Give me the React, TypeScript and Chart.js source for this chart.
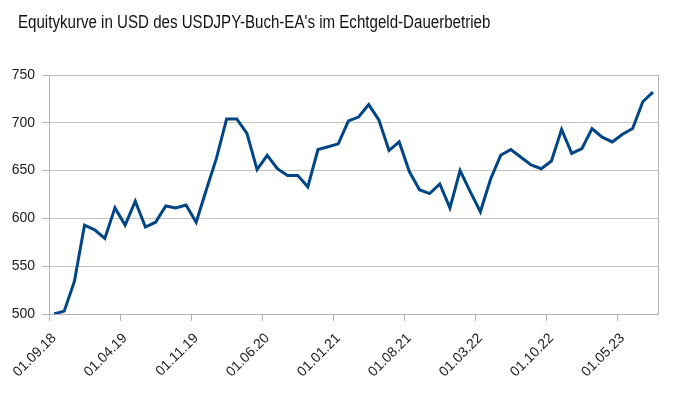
import React, { useEffect, useRef } from 'react';
import { Chart, registerables } from 'chart.js';

Chart.register(...registerables);

const TITLE = "Equitykurve in USD des USDJPY-Buch-EA's im Echtgeld-Dauerbetrieb";

const months = [
  '01.09.18', '01.10.18', '01.11.18', '01.12.18',
  '01.01.19', '01.02.19', '01.03.19', '01.04.19', '01.05.19', '01.06.19', '01.07.19', '01.08.19', '01.09.19', '01.10.19', '01.11.19', '01.12.19',
  '01.01.20', '01.02.20', '01.03.20', '01.04.20', '01.05.20', '01.06.20', '01.07.20', '01.08.20', '01.09.20', '01.10.20', '01.11.20', '01.12.20',
  '01.01.21', '01.02.21', '01.03.21', '01.04.21', '01.05.21', '01.06.21', '01.07.21', '01.08.21', '01.09.21', '01.10.21', '01.11.21', '01.12.21',
  '01.01.22', '01.02.22', '01.03.22', '01.04.22', '01.05.22', '01.06.22', '01.07.22', '01.08.22', '01.09.22', '01.10.22', '01.11.22', '01.12.22',
  '01.01.23', '01.02.23', '01.03.23', '01.04.23', '01.05.23', '01.06.23', '01.07.23', '01.08.23',
];

const equity = [
  500, 503, 534, 593, 588, 579, 611, 593, 618, 591,
  596, 613, 611, 614, 596, 630, 663, 704, 704, 689,
  651, 666, 652, 645, 645, 633, 672, 675, 678, 702,
  706, 719, 703, 671, 680, 649, 630, 626, 636, 611,
  650, 628, 607, 641, 666, 672, 664, 656, 652, 660,
  693, 668, 673, 694, 685, 680, 688, 694, 722, 732,
];

const shownLabels = [
  '01.09.18', '01.04.19', '01.11.19', '01.06.20', '01.01.21',
  '01.08.21', '01.03.22', '01.10.22', '01.05.23',
];

const yTicks = [500, 550, 600, 650, 700, 750];

const GRID = '#c4c4c4';
const FRAME = '#b3b3b3';
const FONT = '"Liberation Sans", Arial, sans-serif';

const framePlugin = {
  id: 'frame',
  afterDraw(chart: any) {
    const { ctx, chartArea } = chart;
    ctx.save();
    ctx.strokeStyle = FRAME;
    ctx.lineWidth = 1;
    ctx.beginPath();
    ctx.moveTo(Math.round(chartArea.right) + 0.5, chartArea.top);
    ctx.lineTo(Math.round(chartArea.right) + 0.5, chartArea.bottom);
    ctx.stroke();
    ctx.restore();
  },
};

export default function App() {
  const ref = useRef<HTMLCanvasElement>(null);

  useEffect(() => {
    if (!ref.current) return;
    const chart = new Chart(ref.current, {
      type: 'line',
      data: {
        labels: months,
        datasets: [
          {
            data: equity,
            borderColor: '#004586',
            borderWidth: 3,
            pointRadius: 0,
            tension: 0,
            fill: false,
          },
        ],
      },
      options: {
        responsive: false,
        animation: false,
        layout: { padding: { top: 75, right: 17, left: 0, bottom: 0 } },
        plugins: {
          legend: { display: false },
          title: { display: false },
          tooltip: { enabled: false },
        },
        scales: {
          x: {
            type: 'category',
            offset: true,
            afterFit: (s: any) => { s.height = 83; },
            grid: {
              offset: true,
              drawOnChartArea: false,
              tickLength: 7,
              color: FRAME,
              tickColor: (c: any) => (c.index % 7 === 0 && c.index < months.length ? FRAME : 'rgba(0,0,0,0)'),
            },
            border: { display: true, color: FRAME },
            ticks: {
              autoSkip: false,
              minRotation: 45,
              maxRotation: 45,
              padding: 9,
              color: '#1a1a1a',
              font: { family: FONT, size: 14 },
              callback: (_v: any, i: number) => (shownLabels.includes(months[i]) ? months[i] : ''),
            },
          },
          y: {
            min: 500,
            max: 750,
            afterFit: (s: any) => { s.width = 49; },
            afterBuildTicks: (s: any) => { s.ticks = yTicks.map((v) => ({ value: v })); },
            grid: { color: GRID, tickLength: 7, tickColor: FRAME },
            border: { display: true, color: FRAME },
            ticks: {
              padding: 7,
              color: '#1a1a1a',
              font: { family: FONT, size: 14 },
            },
          },
        },
      },
      plugins: [framePlugin],
    });
    return () => chart.destroy();
  }, []);

  return (
    <div style={{ position: 'fixed', left: 0, top: 0, width: 675, height: 397, background: '#fff' }}>
      <canvas ref={ref} width={675} height={397} style={{ position: 'absolute', left: 0, top: 0 }} />
      <div
        style={{
          position: 'absolute',
          left: 18,
          top: 11,
          fontFamily: FONT,
          fontSize: 17.5,
          lineHeight: '22px',
          color: '#111',
          whiteSpace: 'nowrap',
          transform: 'scaleX(0.863)',
          transformOrigin: 'left top',
        }}
      >
        {TITLE}
      </div>
    </div>
  );
}
